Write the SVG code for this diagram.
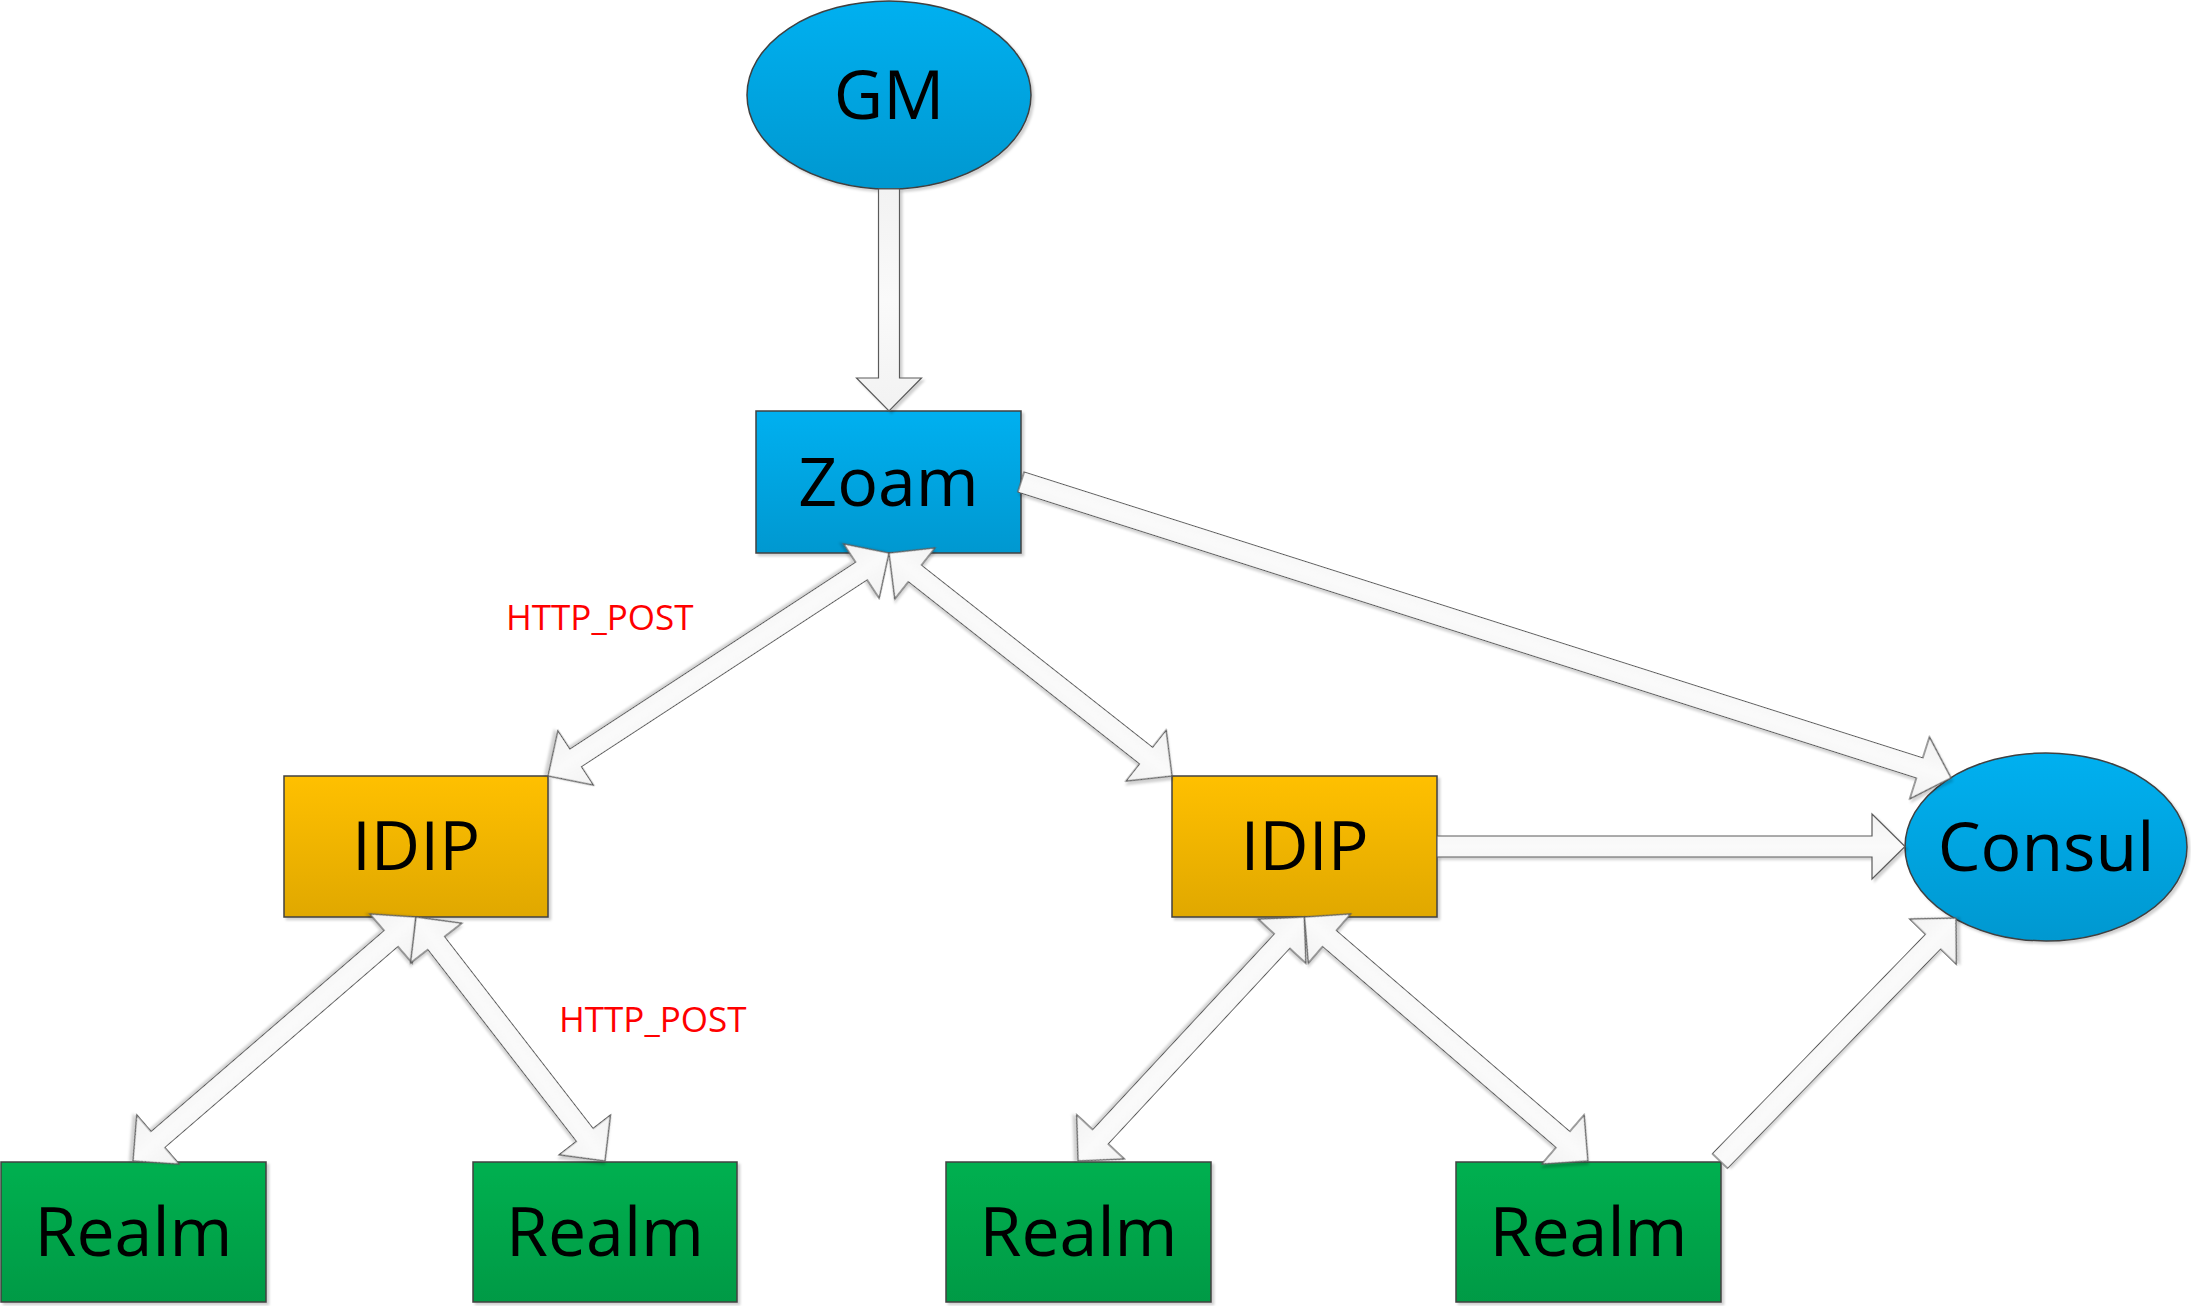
<svg xmlns="http://www.w3.org/2000/svg" width="2191" height="1306" viewBox="0 0 2191 1306">
<defs>
<linearGradient id="blueG" x1="0" y1="0" x2="0" y2="1"><stop offset="0" stop-color="#00B0F0"/><stop offset="1" stop-color="#0098D0"/></linearGradient>
<linearGradient id="yellowG" x1="0" y1="0" x2="0" y2="1"><stop offset="0" stop-color="#FFC000"/><stop offset="1" stop-color="#E0A800"/></linearGradient>
<linearGradient id="greenG" x1="0" y1="0" x2="0" y2="1"><stop offset="0" stop-color="#00B050"/><stop offset="1" stop-color="#009A45"/></linearGradient>
<linearGradient id="arrG" x1="0" y1="0" x2="0" y2="1"><stop offset="0" stop-color="#F2F2F2"/><stop offset="0.5" stop-color="#FAFAFA"/><stop offset="1" stop-color="#F2F2F2"/></linearGradient>
<filter id="sh" x="-10%" y="-10%" width="130%" height="130%"><feDropShadow dx="2.5" dy="2.5" stdDeviation="1.2" flood-color="#000" flood-opacity="0.18"/></filter>
</defs>
<style>
.node{stroke:#404040;stroke-width:1.5;filter:url(#sh)}
.blue{fill:url(#blueG)}
.yellow{fill:url(#yellowG)}
.green{fill:url(#greenG)}
.lbl{font-family:"Open Sans","Liberation Sans",sans-serif;font-size:68px;fill:#000;text-anchor:middle}
.note{font-family:"Open Sans","Liberation Sans",sans-serif;font-size:35px;fill:#FF0000}
.arr{fill:url(#arrG);stroke:#5A5A5A;stroke-width:1.2;stroke-linejoin:miter;filter:url(#sh)}
</style>
<rect width="2191" height="1306" fill="#FFFFFF"/>
<g id="GM"><ellipse class="node blue" cx="889" cy="95" rx="142" ry="94"/><text class="lbl" x="889" y="119">GM</text></g>
<g id="Zoam"><rect class="node blue" x="756" y="411" width="265" height="142"/><text class="lbl" x="888.5" y="506">Zoam</text></g>
<g id="IDIP_left"><rect class="node yellow" x="284" y="776" width="264" height="141"/><text class="lbl" x="416" y="870">IDIP</text></g>
<g id="IDIP_right"><rect class="node yellow" x="1172" y="776" width="265" height="141"/><text class="lbl" x="1304.5" y="870">IDIP</text></g>
<g id="Consul"><ellipse class="node blue" cx="2046" cy="847" rx="141" ry="94"/><text class="lbl" x="2046" y="871">Consul</text></g>
<g id="Realm1"><rect class="node green" x="1" y="1162" width="265" height="140"/><text class="lbl" x="133.5" y="1256">Realm</text></g>
<g id="Realm2"><rect class="node green" x="473" y="1162" width="264" height="140"/><text class="lbl" x="605" y="1256">Realm</text></g>
<g id="Realm3"><rect class="node green" x="946" y="1162" width="265" height="140"/><text class="lbl" x="1078.5" y="1256">Realm</text></g>
<g id="Realm4"><rect class="node green" x="1456" y="1162" width="265" height="140"/><text class="lbl" x="1588.5" y="1256">Realm</text></g>
<g id="connectors">
<polygon class="arr" points="878.5,189 899.5,189 899.5,378 921.5,378 889,411 856.5,378 878.5,378"/>
<polygon class="arr" transform="translate(1021,482) rotate(17.65)" points="0,-10.5 943,-10.5 943,-32.5 976,0 943,32.5 943,10.5 0,10.5"/>
<polygon class="arr" points="1437,836 1872,836 1872,814 1905,846.5 1872,879 1872,857 1437,857"/>
<polygon class="arr" transform="translate(1720,1161) rotate(-45.84)" points="0,-10.5 305.7,-10.5 305.7,-32.5 338.7,0 305.7,32.5 305.7,10.5 0,10.5"/>
<polygon class="arr" transform="translate(889,553) rotate(146.82)" points="0,0 33,-32.5 33,-10.5 374.4,-10.5 374.4,-32.5 407.4,0 374.4,32.5 374.4,10.5 33,10.5 33,32.5"/>
<polygon class="arr" transform="translate(889,553) rotate(38.24)" points="0,0 33,-32.5 33,-10.5 327.3,-10.5 327.3,-32.5 360.3,0 327.3,32.5 327.3,10.5 33,10.5 33,32.5"/>
<polygon class="arr" transform="translate(416,917) rotate(139.23)" points="0,0 33,-32.5 33,-10.5 340.7,-10.5 340.7,-32.5 373.7,0 340.7,32.5 340.7,10.5 33,10.5 33,32.5"/>
<polygon class="arr" transform="translate(416,917) rotate(52.24)" points="0,0 33,-32.5 33,-10.5 275.6,-10.5 275.6,-32.5 308.6,0 275.6,32.5 275.6,10.5 33,10.5 33,32.5"/>
<polygon class="arr" transform="translate(1304.5,917) rotate(132.87)" points="0,0 33,-32.5 33,-10.5 299.9,-10.5 299.9,-32.5 332.9,0 299.9,32.5 299.9,10.5 33,10.5 33,32.5"/>
<polygon class="arr" transform="translate(1304.5,917) rotate(40.72)" points="0,0 33,-32.5 33,-10.5 341,-10.5 341,-32.5 374,0 341,32.5 341,10.5 33,10.5 33,32.5"/>
</g>
<text class="note" x="506" y="630">HTTP_POST</text>
<text class="note" x="559" y="1032">HTTP_POST</text>
</svg>
